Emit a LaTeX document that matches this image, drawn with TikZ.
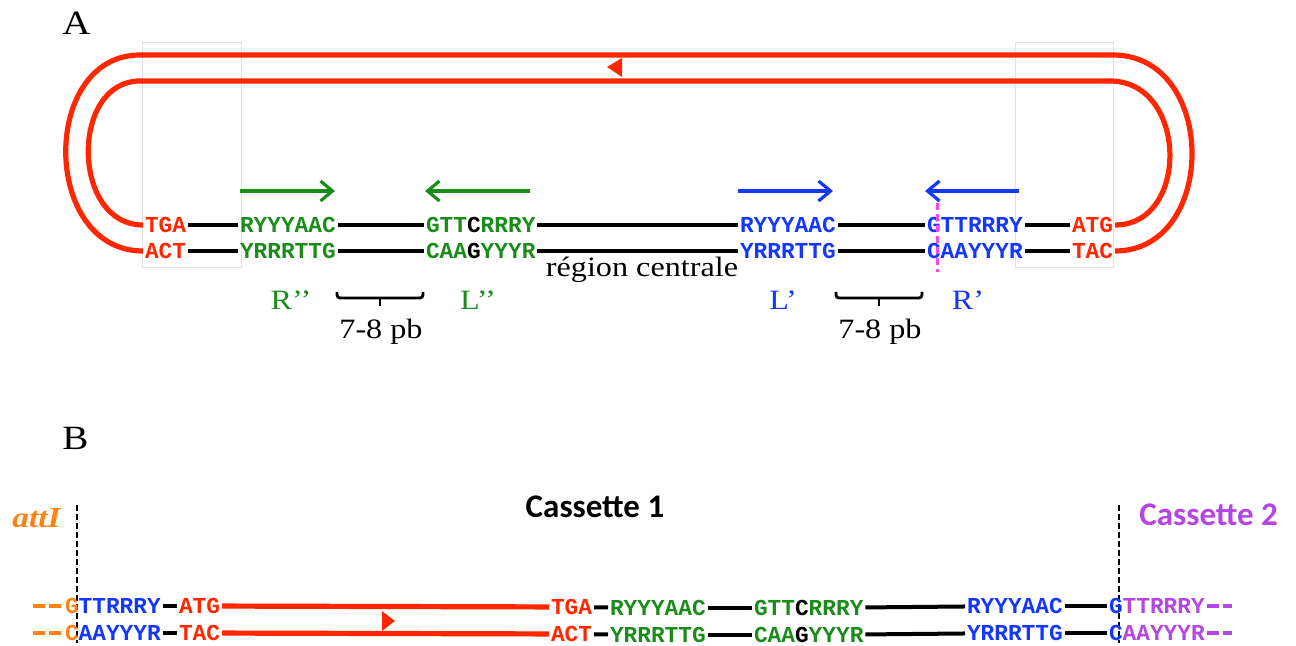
\documentclass[tikz,border=0pt]{standalone}
\usepackage{fontspec}
\usetikzlibrary{arrows.meta}
\newfontfamily\seqfont{Liberation Mono}
\newfontfamily\casfont{Carlito}
\newfontfamily\labfont{Liberation Serif}[FakeStretch=1.15]
\definecolor{dnared}{RGB}{255,38,0}
\definecolor{sgreen}{RGB}{26,140,26}
\definecolor{sblue}{RGB}{20,55,255}
\definecolor{attorange}{RGB}{255,130,20}
\definecolor{cpurple}{RGB}{180,70,230}
\definecolor{cutpink}{RGB}{255,70,230}
\definecolor{faintgray}{RGB}{225,225,225}
\begin{document}
\begin{tikzpicture}[x=0.5pt,y=-0.5pt,
  seq/.style={font=\seqfont\bfseries\fontsize{11.4}{12}\selectfont, inner sep=0pt, outer sep=1pt, anchor=west},
  lab/.style={font=\labfont\fontsize{14}{16}\selectfont, inner sep=0pt},
  panel/.style={font=\labfont\fontsize{17}{19}\selectfont, inner sep=0pt, anchor=base west},
  cas/.style={font=\casfont\bfseries\fontsize{16.5}{18}\selectfont, inner sep=0pt},
  link/.style={line width=2pt, black},
  dna/.style={line width=2.6pt, dnared},
  garrow/.style={line width=1.6pt, sgreen, -{Straight Barb[length=6pt,width=10pt]}},
  barrow/.style={line width=1.6pt, sblue, -{Straight Barb[length=6pt,width=10pt]}},
  brace/.style={line width=1.4pt, rounded corners=1.5pt},
  cut/.style={line width=1.5pt, cutpink, dash pattern=on 3.5pt off 2pt},
  border/.style={line width=1pt, dash pattern=on 3pt off 1.5pt},
  odash/.style={line width=2.2pt, dash pattern=on 6pt off 2pt},
  faint/.style={line width=0.5pt, faintgray}]
\useasboundingbox (0,0) rectangle (1296,646);

% ---------------- Panel A ----------------
\node[panel] (pA) at (62,35) {A};
\draw[faint] (142,43) rectangle (241,268);
\draw[faint] (1015,43) rectangle (1113,268);

% top strand
\node[seq, text=dnared] (a1) at (143,225) {TGA};
\node[seq, text=sgreen] (a2) at (238,225) {RYYYAAC};
\node[seq, text=sgreen] (a3) at (424,225) {GTT\textcolor{black}{C}RRRY};
\node[seq, text=sblue]  (a4) at (738,225) {RYYYAAC};
\node[seq, text=sblue]  (a5) at (925,225) {GTTRRRY};
\node[seq, text=dnared] (a6) at (1070,225) {ATG};
% bottom strand
\node[seq, text=dnared] (b1) at (143,251) {ACT};
\node[seq, text=sgreen] (b2) at (238,251) {YRRRTTG};
\node[seq, text=sgreen] (b3) at (424,251) {CAA\textcolor{black}{G}YYYR};
\node[seq, text=sblue]  (b4) at (738,251) {YRRRTTG};
\node[seq, text=sblue]  (b5) at (925,251) {CAAYYYR};
\node[seq, text=dnared] (b6) at (1070,251) {TAC};

\foreach \u/\v in {a1/a2,a2/a3,a3/a4,a4/a5,a5/a6,b1/b2,b2/b3,b3/b4,b4/b5,b5/b6}
  \draw[link] (\u) -- (\v);

% circular cassette
\draw[dna] (b1.west) .. controls (41,251) and (40,55) .. (140,55) -- (1113,55)
  .. controls (1218,55) and (1218,251) .. (b6.east);
\draw[dna] (a1.west) .. controls (71,225) and (70,81) .. (140,81) -- (1110,81)
  .. controls (1188,81) and (1190,225) .. (a6.east);
\fill[dnared] (607,67) -- (622,58) -- (622,77) -- cycle;

% inverted repeats
\coordinate (g1s) at (240,191); \coordinate (g1e) at (335,191);
\coordinate (g2s) at (530,191); \coordinate (g2e) at (425,191);
\coordinate (u1s) at (738,191); \coordinate (u1e) at (833,191);
\coordinate (u2s) at (1019,191); \coordinate (u2e) at (925,191);
\draw[garrow] (g1s) -- (g1e);
\draw[garrow] (g2s) -- (g2e);
\draw[barrow] (u1s) -- (u1e);
\draw[barrow] (u2s) -- (u2e);

% cleavage site
\draw[cut] (937,203) -- (937,272);

\node[lab, text=sgreen] (Rpp) at (291,300) {R’’};
\node[lab, text=sgreen] (Lpp) at (478,300) {L’’};
\node[lab, text=sblue]  (Lp)  at (783,300) {L’};
\node[lab, text=sblue]  (Rp)  at (968,300) {R’};

\draw[brace] (337,292) -- (337,298) -- (423,298) -- (423,292);
\draw[line width=1.4pt] (380,298) -- (380,306);
\draw[brace] (836,292) -- (836,298) -- (922,298) -- (922,292);
\draw[line width=1.4pt] (879,298) -- (879,306);
\node[lab, anchor=base] (sp1) at (381,339) {7-8 pb};
\node[lab, anchor=base] (sp2) at (880,339) {7-8 pb};
\node[lab, anchor=base] (rc) at (642,277) {région centrale};

% ---------------- Panel B ----------------
\node[panel] (pB) at (62,450) {B};
\node[cas, anchor=base] (cas1) at (595,517) {Cassette 1};
\node[cas, anchor=base west, text=cpurple] (cas2) at (1139,525) {Cassette 2};
\node[font=\labfont\bfseries\itshape\fontsize{14.5}{16}\selectfont, inner sep=0pt, anchor=base west, text=attorange] (att) at (12,527) {attI};

\draw[border] (77,505) -- (77,643);
\draw[border] (1119,505) -- (1119,643);

% top strand
\node[seq, text=sblue]  (c1) at (63,606) {\textcolor{attorange}{G}TTRRRY};
\node[seq, text=dnared] (c2) at (177,606) {ATG};
\node[seq, text=dnared] (c3) at (549,607) {TGA};
\node[seq, text=sgreen] (c4) at (608,608) {RYYYAAC};
\node[seq, text=sgreen] (c5) at (752,608) {GTT\textcolor{black}{C}RRRY};
\node[seq, text=sblue]  (c6) at (965,606) {RYYYAAC};
\node[seq, text=sblue]  (c7) at (1107,606) {G\textcolor{cpurple}{TTRRRY}};
% bottom strand
\node[seq, text=sblue]  (d1) at (63,633) {\textcolor{attorange}{C}AAYYYR};
\node[seq, text=dnared] (d2) at (177,633) {TAC};
\node[seq, text=dnared] (d3) at (549,634) {ACT};
\node[seq, text=sgreen] (d4) at (608,635) {YRRRTTG};
\node[seq, text=sgreen] (d5) at (752,635) {CAA\textcolor{black}{G}YYYR};
\node[seq, text=sblue]  (d6) at (965,633) {YRRRTTG};
\node[seq, text=sblue]  (d7) at (1107,633) {C\textcolor{cpurple}{AAYYYR}};

\foreach \u/\v in {c1/c2,c3/c4,c4/c5,c5/c6,c6/c7,d1/d2,d3/d4,d4/d5,d5/d6,d6/d7}
  \draw[link] (\u) -- (\v);
\draw[dna] (c2) -- (c3);
\draw[dna] (d2) -- (d3);
\fill[dnared] (382,611) -- (395,621) -- (382,631) -- cycle;

% flanking sequences
\coordinate (lt) at (33,606); \coordinate (lb) at (33,633);
\coordinate (rt) at (1232,606); \coordinate (rb) at (1232,633);
\draw[odash, attorange] (lt) -- (c1.west);
\draw[odash, attorange] (lb) -- (d1.west);
\draw[odash, cpurple] (c7.east) -- (rt);
\draw[odash, cpurple] (d7.east) -- (rb);
\end{tikzpicture}
\end{document}
